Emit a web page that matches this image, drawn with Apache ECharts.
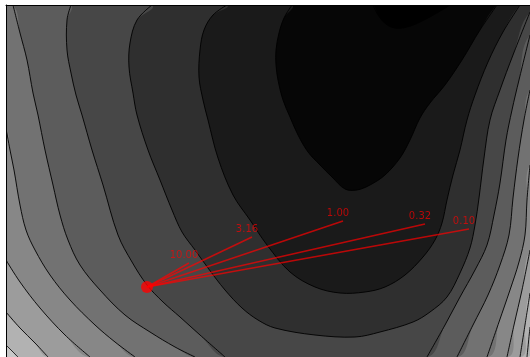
<!DOCTYPE html>
<html>
<head>
<meta charset="utf-8">
<script src="https://cdn.jsdelivr.net/npm/echarts@6/dist/echarts.min.js"></script>
<style>
    html, body { margin: 0; padding: 0; background: #ffffff; }
    #chart { width: 530px; height: 357px; }
</style>
</head>
<body>
<div id="chart"></div>
<script>
// plot extent in data units
const X_MAX = 524;
const Y_MAX = 352;

// contour levels, innermost (lowest loss) first.
// each level is a list of polyline pieces [[x, y], ...]
const contour0 = [[[367,352],[372,342],[380,333],[389,329],[401,330],[414,335],[429,343],[444,352]]];
const contour1 = [[[286,352],[278,339],[273,324],[270,307],[270,292],[272,277],[277,257],[284,240],[292,222],[302,205],[314,192],[326,180],[339,168],[351,167],[364,172],[379,182],[394,199],[404,217],[414,239],[424,254],[439,272],[456,297],[474,327],[491,352]]];
const contour2 = [[[221,352],[207,342],[198,327],[194,307],[193,280],[197,257],[202,237],[212,199],[227,162],[244,137],[261,112],[284,85],[309,70],[334,64],[359,65],[379,70],[399,82],[417,100],[429,117],[436,134],[441,157],[447,182],[454,207],[461,237],[469,262],[482,295],[497,325],[514,352]]];
const contour3 = [[[146,352],[131,337],[124,314],[123,290],[127,264],[131,242],[142,207],[154,177],[166,147],[176,125],[189,107],[202,89],[219,67],[236,49],[252,37],[269,29],[309,22],[349,20],[374,25],[407,35],[424,45],[441,60],[454,84],[464,109],[469,132],[473,159],[478,199],[484,237],[494,267],[507,302],[524,345]]];
const contour4 = [
    [[65,352],[61,337],[61,307],[65,284],[70,262],[76,242],[86,207],[97,172],[112,122],[126,95],[141,72],[157,55],[174,40],[194,22],[219,0]],
    [[421,0],[439,32],[454,60],[469,87],[481,112],[488,142],[494,174],[500,217],[506,247],[513,277],[524,322]]
];
const contour5 = [
    [[7,352],[14,324],[21,297],[27,264],[32,242],[39,207],[47,172],[54,142],[62,117],[74,92],[94,67],[119,42],[144,25],[169,10],[189,0]],
    [[451,0],[467,32],[482,62],[494,92],[503,122],[507,159],[512,199],[518,237],[524,267]]
];
const contour6 = [
    [[0,229],[4,207],[8,187],[14,152],[20,127],[29,107],[44,82],[64,57],[89,32],[109,15],[129,0]],
    [[481,0],[493,35],[504,67],[513,95],[519,122],[521,157],[524,192]]
];
const contour7 = [
    [[0,97],[14,75],[34,49],[59,22],[84,0]],
    [[501,0],[508,32],[516,67],[524,107]]
];
const contour8 = [
    [[0,45],[14,29],[29,14],[42,0]],
    [[514,0],[519,32],[524,64]]
];
const contour9 = [
    [[0,12],[6,6],[12,0]],
    [[521,0],[524,30]]
];
const contourLevels = [contour0, contour1, contour2, contour3, contour4, contour5, contour6, contour7, contour8, contour9];

// band colours: inside level 0, between 0 and 1, ... , outside the last level
const bandColors = ['#000000', '#060606', '#1a1a1a', '#2f2f2f', '#474747', '#5c5c5c', '#727272', '#878787', '#9c9c9c', '#b2b2b2', '#c8c8c8'];

// regularisation path: common start and solution for each lambda
const startPoint = [141, 70];
const lambdaLabels = ['10.00', '3.16', '1.00', '0.32', '0.10'];
const endX = [183, 246, 337, 419, 463];
const endY = [94, 120, 136, 133, 128];

const SMOOTH = 0.35;

const chart = echarts.init(document.getElementById('chart'));

// draw outermost level first so inner levels paint over it
const fillOrder = contourLevels.map((_, i) => contourLevels.length - 1 - i);

function renderFill(params, api) {
    const k = fillOrder[params.dataIndex];
    // close the region well outside the plot so the smoothing bulges get clipped
    const pts = contourLevels[k].flat().concat([[X_MAX + 300, Y_MAX + 300], [-300, Y_MAX + 300]]);
    return {
        type: 'polygon',
        shape: { points: pts.map(p => api.coord(p)), smooth: SMOOTH },
        style: { fill: bandColors[k], stroke: null }
    };
}

function renderLines(params, api) {
    const pieces = contourLevels[params.dataIndex];
    return {
        type: 'group',
        children: pieces.map(piece => ({
            type: 'polyline',
            shape: { points: piece.map(p => api.coord(p)), smooth: SMOOTH },
            style: { stroke: '#000000', lineWidth: 0.9, fill: null }
        }))
    };
}

const pathSeries = lambdaLabels.map((lab, i) => ({
    type: 'line',
    name: lab,
    data: [startPoint, [endX[i], endY[i]]],
    symbol: 'none',
    silent: true,
    z: 5,
    lineStyle: { color: 'rgba(255, 0, 0, 0.7)', width: 1.5 }
}));

const option = {
    animation: false,
    grid: {
        left: 6,
        top: 5,
        right: 0,
        bottom: 0,
        show: true,
        backgroundColor: bandColors[bandColors.length - 1],
        borderWidth: 0
    },
    xAxis: {
        type: 'value',
        min: 0,
        max: X_MAX,
        position: 'top',
        z: 10,
        axisLine: { show: true, onZero: false, lineStyle: { color: '#000000', width: 1 } },
        axisTick: { show: false },
        axisLabel: { show: false },
        splitLine: { show: false }
    },
    yAxis: {
        type: 'value',
        min: 0,
        max: Y_MAX,
        z: 10,
        axisLine: { show: true, onZero: false, lineStyle: { color: '#000000', width: 1 } },
        axisTick: { show: false },
        axisLabel: { show: false },
        splitLine: { show: false }
    },
    series: [
        {
            type: 'custom',
            silent: true,
            clip: true,
            z: 1,
            renderItem: renderFill,
            data: fillOrder.map(k => [k])
        },
        {
            type: 'custom',
            silent: true,
            clip: true,
            z: 2,
            renderItem: renderLines,
            data: contourLevels.map((_, i) => [i])
        },
        ...pathSeries,
        {
            type: 'scatter',
            silent: true,
            z: 6,
            symbolSize: 0,
            data: lambdaLabels.map((lab, i) => ({ name: lab, value: [endX[i], endY[i]] })),
            label: {
                show: true,
                formatter: '{b}',
                position: 'top',
                distance: 3,
                offset: [-5, 0],
                color: 'rgba(255, 0, 0, 0.85)',
                fontSize: 10,
                fontFamily: 'DejaVu Sans'
            }
        },
        {
            type: 'scatter',
            silent: true,
            z: 7,
            symbolSize: 12,
            itemStyle: { color: '#ff0000' },
            data: [startPoint]
        }
    ]
};

chart.setOption(option);
</script>
</body>
</html>
